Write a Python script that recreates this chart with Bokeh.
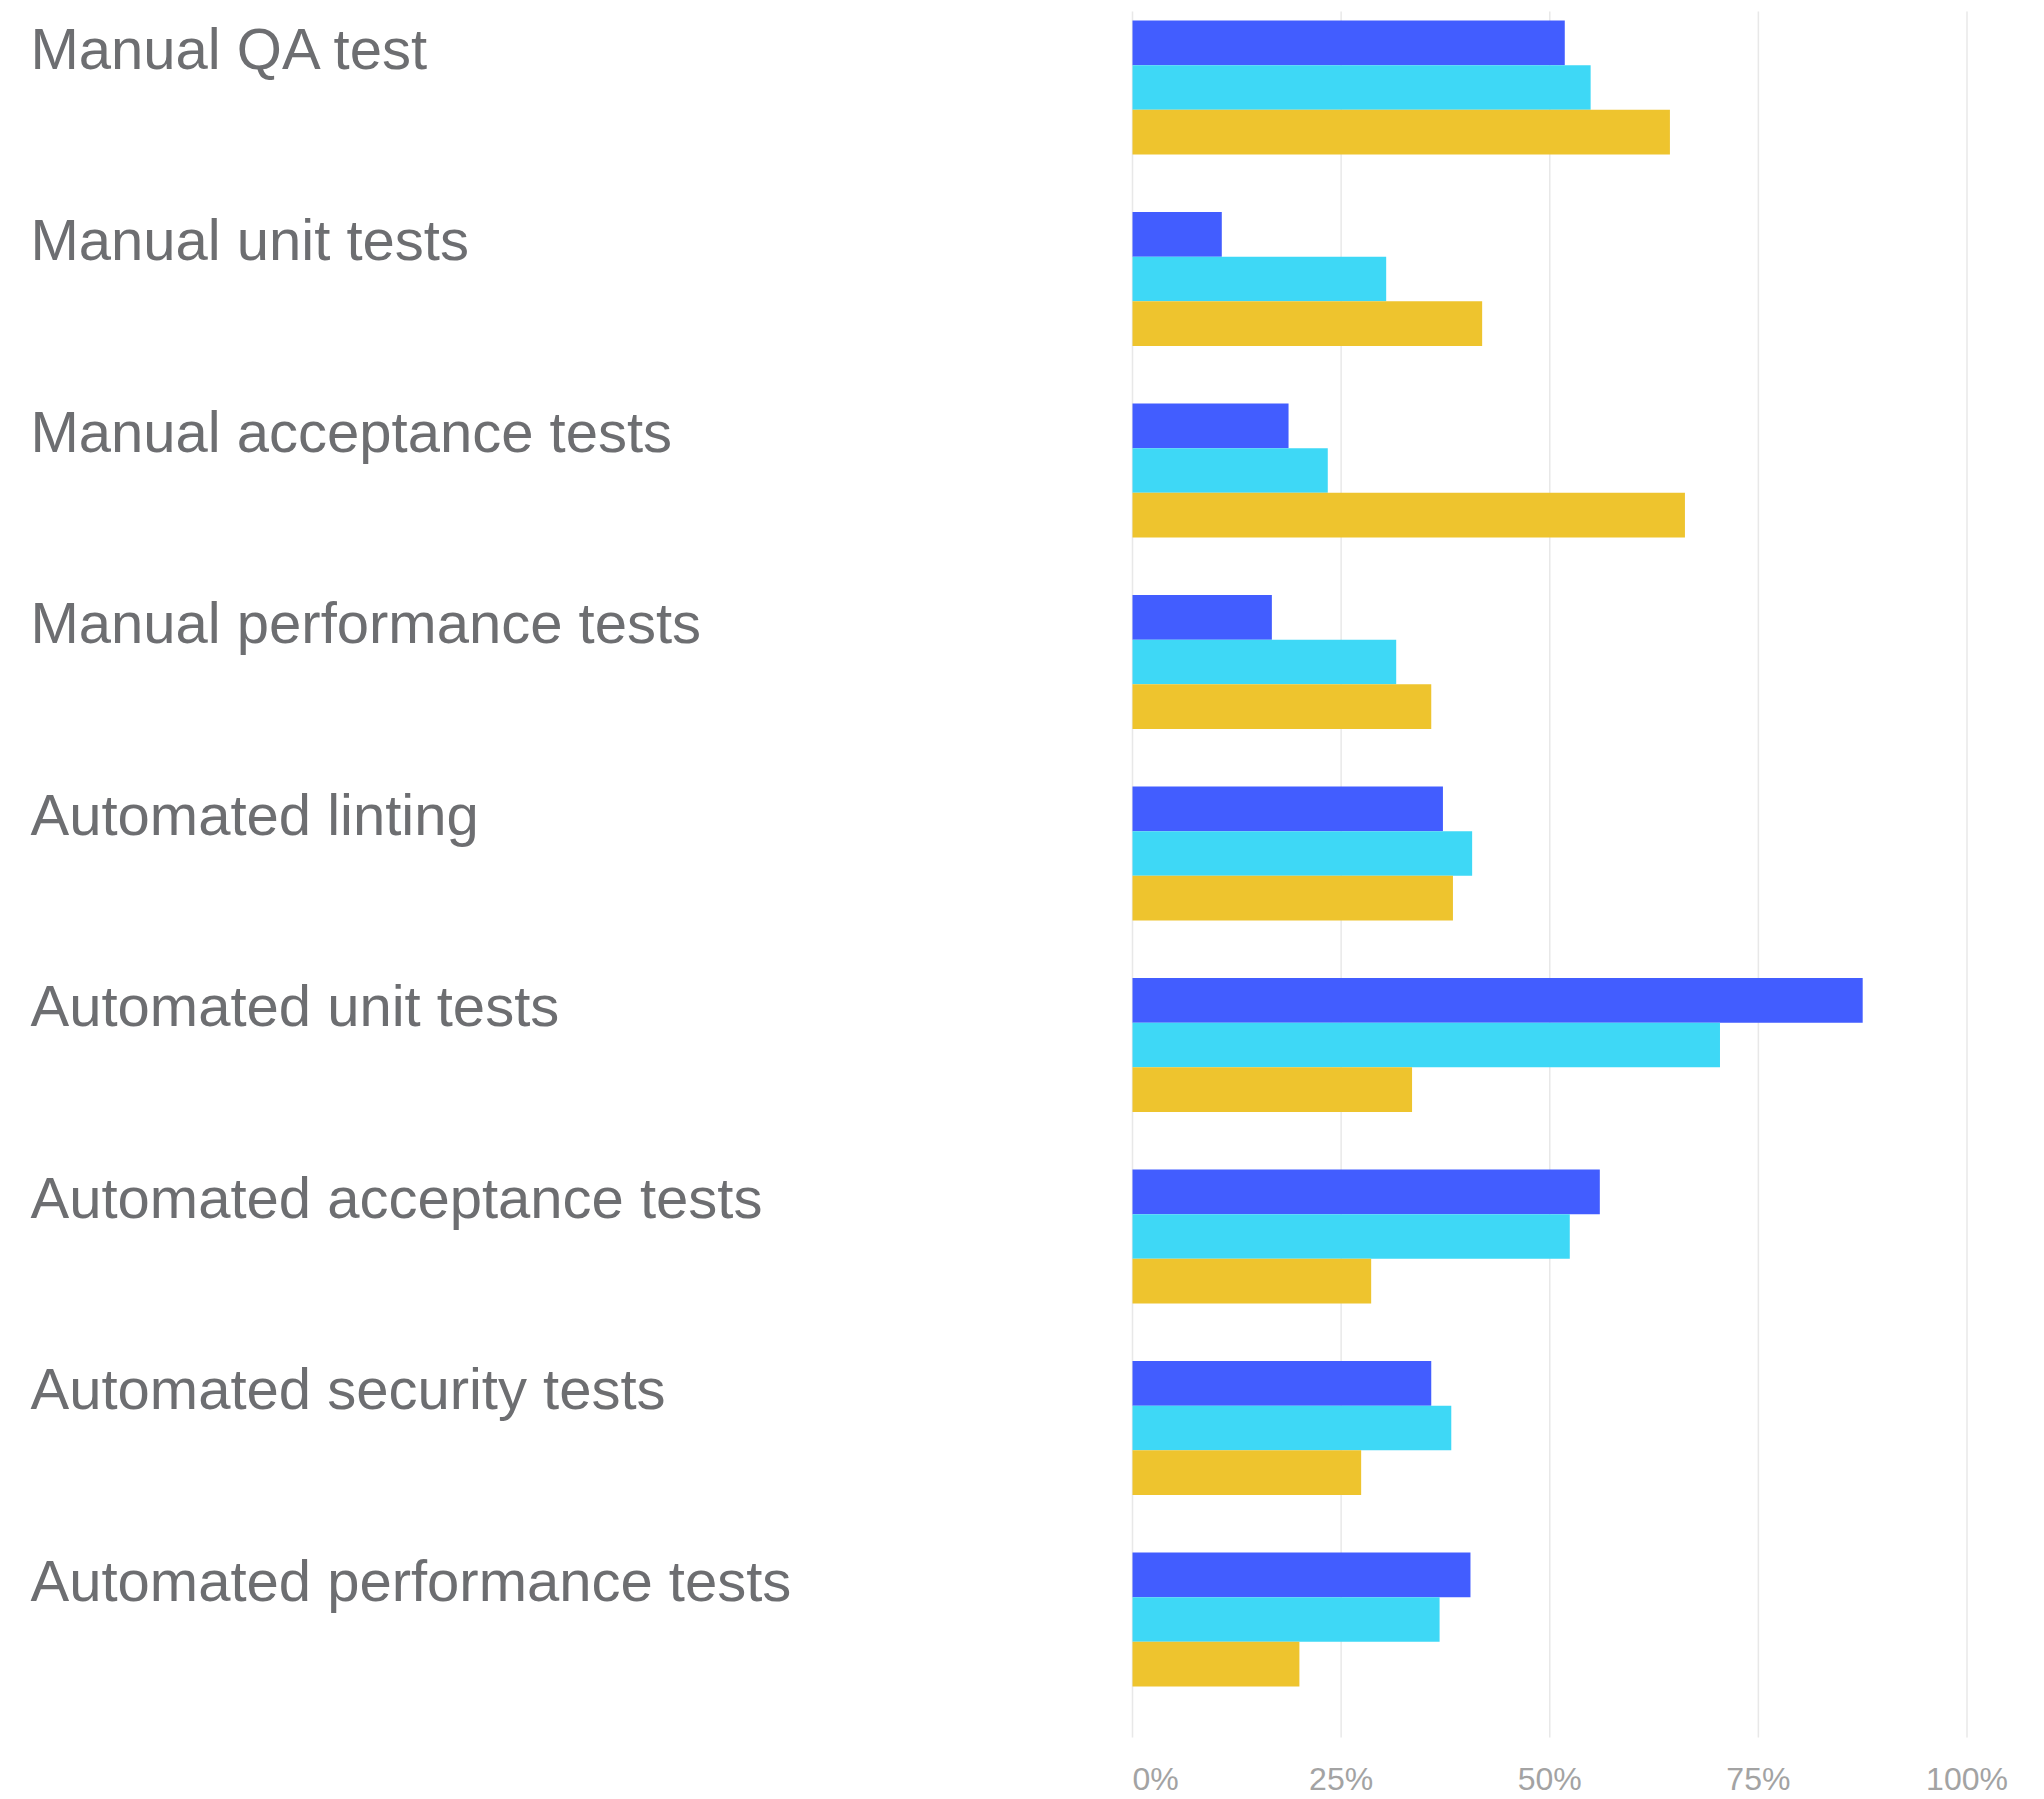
from bokeh.plotting import figure
from bokeh.models import Range1d, ColumnDataSource
from bokeh.core.properties import value
from bokeh.embed import file_html
from bokeh.resources import INLINE

# ---- data ----
categories = [
    "Manual QA test",
    "Manual unit tests",
    "Manual acceptance tests",
    "Manual performance tests",
    "Automated linting",
    "Automated unit tests",
    "Automated acceptance tests",
    "Automated security tests",
    "Automated performance tests",
]
series_blue = [51.8, 10.7, 18.7, 16.7, 37.2, 87.5, 56.0, 35.8, 40.5]
series_cyan = [54.9, 30.4, 23.4, 31.6, 40.7, 70.4, 52.4, 38.2, 36.8]
series_yellow = [64.4, 41.9, 66.2, 35.8, 38.4, 33.5, 28.6, 27.4, 20.0]
tick_values = [0, 25, 50, 75, 100]
tick_labels = ["0%", "25%", "50%", "75%", "100%"]

# ---- layout (pixels) ----
W, H = 2044, 1799
x0_px = 1132          # where 0% sits
px_per_pct = 8.345    # 100% = 834.5 px
c0_px = 87.0          # centre of first group
px_per_row = 191.5    # distance between groups
bar_h = 0.233         # bar thickness in row units
cat_size, tick_size = 58, 32
base_fix = 0.345      # svg baseline correction (em)

def xd(px):
    return (px - x0_px) / px_per_pct

def yd(px):
    return (px - c0_px) / px_per_row

p = figure(
    width=W, height=H,
    min_border=0, min_border_left=0, min_border_right=0,
    min_border_top=0, min_border_bottom=0,
    x_range=Range1d(xd(0), xd(W)), y_range=Range1d(yd(H), yd(0)),
    x_axis_location=None, y_axis_location=None,
    toolbar_location=None, output_backend="svg",
    outline_line_color=None, background_fill_color="white",
    border_fill_color="white",
)
p.grid.visible = False

# vertical gridlines at tick values
p.segment(x0=tick_values, x1=tick_values,
          y0=[yd(11)] * len(tick_values), y1=[yd(1737)] * len(tick_values),
          line_color="#e8e8e8", line_width=1.5)

idx = list(range(len(categories)))
colors = ["#425DFF", "#3ED8F6", "#EEC42E"]
for k, (vals, col) in enumerate(zip([series_blue, series_cyan, series_yellow], colors)):
    ys = [i + (k - 1) * bar_h for i in idx]
    p.hbar(y=ys, left=0, right=vals, height=bar_h, fill_color=col, line_color=None)

font = "Liberation Sans"
cat_shift = (3 - base_fix * cat_size) / px_per_row
cat_src = ColumnDataSource(dict(
    x=[xd(30)] * len(categories),
    y=[i - 0.5 * bar_h + cat_shift for i in idx],
    text=categories,
))
p.text(x="x", y="y", text="text", source=cat_src,
       text_align="left", text_baseline="alphabetic",
       text_font=value(font), text_font_size=f"{cat_size}px", text_color="#6d6e71")

tick_src = ColumnDataSource(dict(
    x=tick_values,
    y=[yd(1790 - base_fix * tick_size)] * len(tick_values),
    text=tick_labels,
    align=["left"] + ["center"] * (len(tick_values) - 1),
))
p.text(x="x", y="y", text="text", source=tick_src,
       text_align="align", text_baseline="alphabetic",
       text_font=value(font), text_font_size=f"{tick_size}px", text_color="#a3a3a3")

open("out.html", "w").write(file_html(p, INLINE))
